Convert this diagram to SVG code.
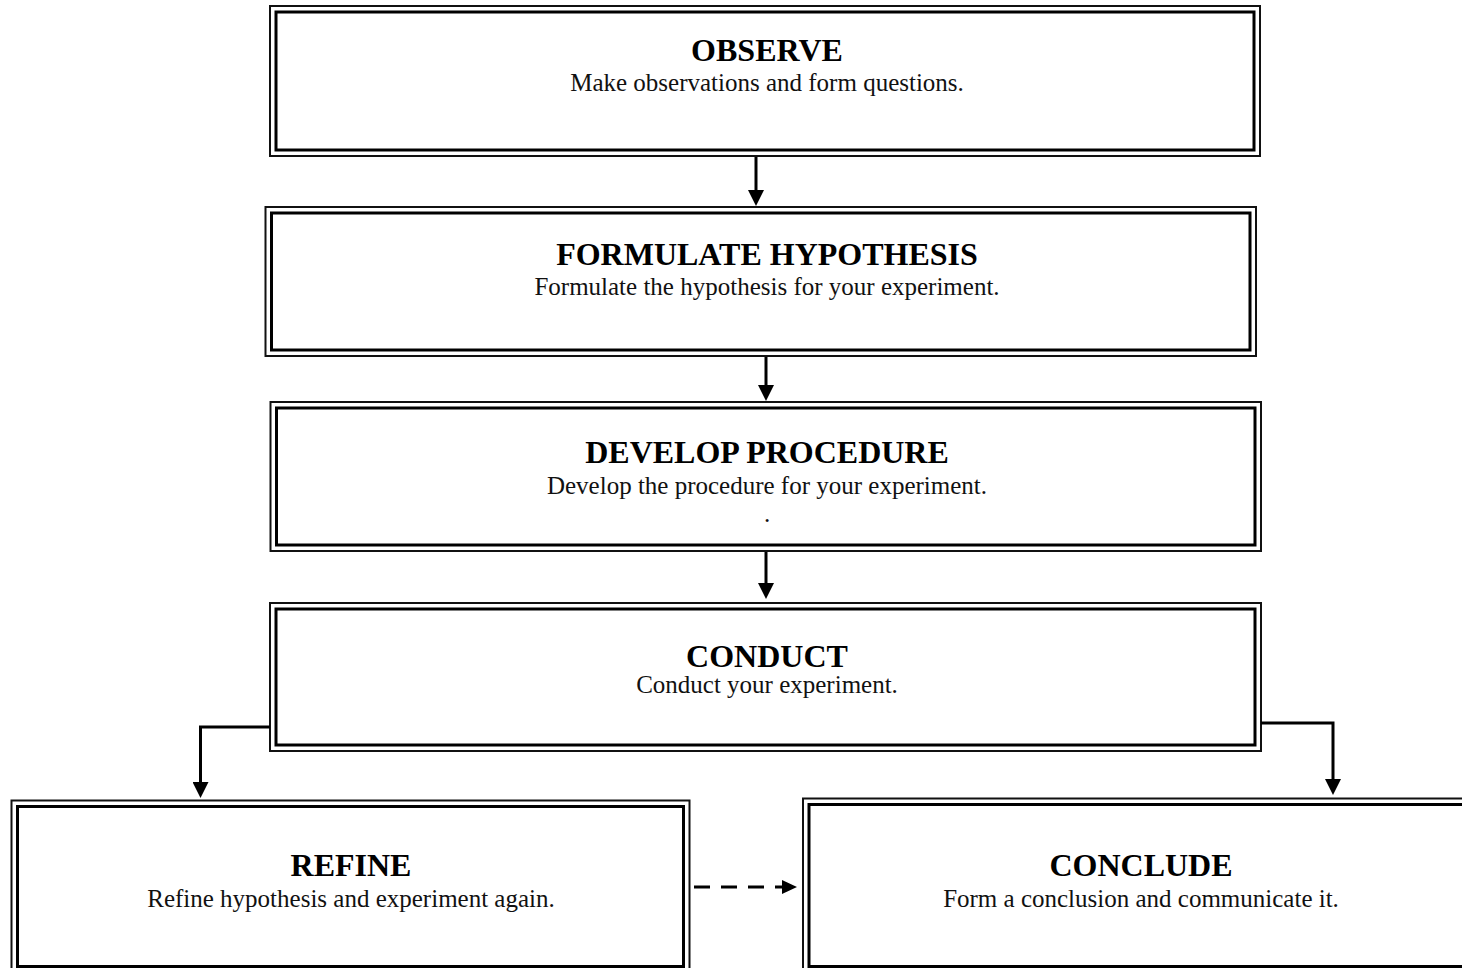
<svg xmlns="http://www.w3.org/2000/svg" width="1462" height="968" viewBox="0 0 1462 968">
<style>
.o{fill:none;stroke:#111;stroke-width:2}
.i{fill:none;stroke:#000;stroke-width:3}
.t{font-family:"Liberation Serif","Times New Roman",serif;font-weight:bold;font-size:32px;fill:#000;text-anchor:middle}
.s{font-family:"Liberation Serif","Times New Roman",serif;font-size:25px;fill:#111;text-anchor:middle}
.c{fill:none;stroke:#000;stroke-width:3}
.d{fill:none;stroke:#000;stroke-width:3;stroke-dasharray:16 11}
</style>
<defs>
<marker id="ah" markerUnits="userSpaceOnUse" viewBox="0 0 16 16" refX="1" refY="8" markerWidth="16" markerHeight="16" orient="auto">
<path d="M0,0 L16,8 L0,16 z" fill="#000"/>
</marker>
</defs>
<rect width="1462" height="968" fill="#fff"/>
<g id="observe">
<rect class="o" x="270" y="6" width="990" height="150"/>
<rect class="i" x="276" y="12" width="978" height="138"/>
<text class="t" x="767" y="61">OBSERVE</text>
<text class="s" x="767" y="91">Make observations and form questions.</text>
</g>
<g id="formulate">
<rect class="o" x="265.5" y="207" width="990.5" height="149"/>
<rect class="i" x="271.5" y="213" width="978.5" height="137"/>
<text class="t" x="767" y="265">FORMULATE HYPOTHESIS</text>
<text class="s" x="767" y="295">Formulate the hypothesis for your experiment.</text>
</g>
<g id="develop">
<rect class="o" x="270.5" y="402" width="990.5" height="149"/>
<rect class="i" x="276.5" y="408" width="978.5" height="137"/>
<text class="t" x="767" y="463">DEVELOP PROCEDURE</text>
<text class="s" x="767" y="494">Develop the procedure for your experiment.</text>
<text class="s" x="767" y="522">.</text>
</g>
<g id="conduct">
<rect class="o" x="270" y="603" width="991" height="148"/>
<rect class="i" x="276" y="609" width="979" height="136"/>
<text class="t" x="767" y="667">CONDUCT</text>
<text class="s" x="767" y="693">Conduct your experiment.</text>
</g>
<g id="refine">
<rect class="o" x="11.5" y="800.5" width="678" height="172"/>
<rect class="i" x="17.5" y="806.5" width="666" height="160"/>
<text class="t" x="351" y="876">REFINE</text>
<text class="s" x="351" y="907">Refine hypothesis and experiment again.</text>
</g>
<g id="conclude">
<rect class="o" x="803" y="798.5" width="680" height="174"/>
<rect class="i" x="809" y="804.5" width="668" height="162"/>
<text class="t" x="1141" y="876">CONCLUDE</text>
<text class="s" x="1141" y="907">Form a conclusion and communicate it.</text>
</g>
<g id="connectors">
<path class="c" d="M756,157 L756,191" marker-end="url(#ah)"/>
<path class="c" d="M766,357 L766,386" marker-end="url(#ah)"/>
<path class="c" d="M766,552 L766,584" marker-end="url(#ah)"/>
<path class="c" d="M270,727 L200.5,727 L200.5,783" marker-end="url(#ah)"/>
<path class="c" d="M1261,723 L1333,723 L1333,780" marker-end="url(#ah)"/>
<path class="d" d="M694,887 L782,887"/>
<path d="M782,880 L797,887 L782,894 z" fill="#000"/>
</g>
</svg>
